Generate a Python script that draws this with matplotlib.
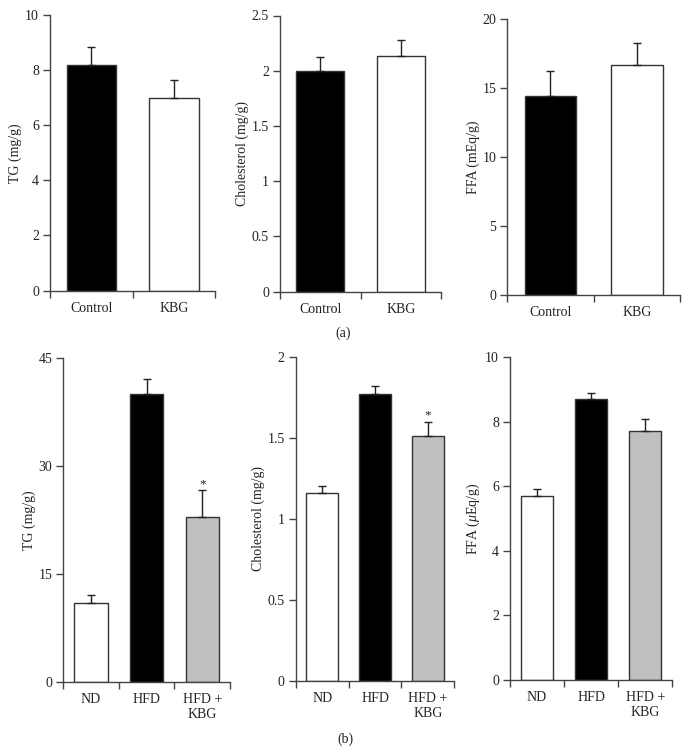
import matplotlib
matplotlib.use("Agg")
import matplotlib.pyplot as plt

plt.rcParams['font.family'] = ['Liberation Serif', 'DejaVu Serif']
plt.rcParams['mathtext.fontset'] = 'custom'
plt.rcParams['mathtext.it'] = 'Liberation Serif:italic'
plt.rcParams['mathtext.rm'] = 'Liberation Serif'

# ---- data ----
cats_a = ["Control", "KBG"]
cats_b = ["ND", "HFD", "HFD +\nKBG"]

tg_a = [8.2, 7.0]
tg_a_err = [0.65, 0.65]
chol_a = [2.0, 2.13]
chol_a_err = [0.12, 0.145]
ffa_a = [14.45, 16.66]
ffa_a_err = [1.77, 1.64]

tg_b = [10.9, 39.9, 22.9]
tg_b_err = [1.2, 2.2, 3.7]
chol_b = [1.16, 1.77, 1.51]
chol_b_err = [0.04, 0.05, 0.09]
ffa_b = [5.69, 8.7, 7.7]
ffa_b_err = [0.21, 0.2, 0.39]

sig_b = ["", "", "*"]

colors_a = ["black", "white"]
colors_b = ["white", "black", "#c0c0c0"]

W, H = 689, 753
fig = plt.figure(figsize=(W / 100, H / 100), dpi=100)

def px_axes(x0, x1, ytop, ybot):
    return fig.add_axes([x0 / W, 1 - ybot / H, (x1 - x0) / W, (ybot - ytop) / H])

spine_c = "#444444"

def panel(ax, cats, vals, errs, colors, ymax, yticks, ytlabels, ylabel, sig=None, labelpad=2):
    n = len(cats)
    xs = list(range(n))
    ax.bar(xs, vals, width=0.6, color=colors, edgecolor="#333333", linewidth=1.0, zorder=2)
    ax.errorbar(xs, vals, yerr=[[0] * n, errs], fmt="none", ecolor="#222222",
                elinewidth=1.0, capsize=3, capthick=1.0, zorder=3)
    if sig:
        for x, v, e, s in zip(xs, vals, errs, sig):
            if s:
                ax.text(x, v + e, s, ha="center", va="bottom", fontsize=9.5, color="#222222")
    ax.set_xlim(-0.5, n - 0.5)
    ax.set_ylim(0, ymax)
    ax.set_yticks(yticks)
    ax.set_yticklabels(ytlabels)
    ax.set_xticks(xs)
    ax.set_xticklabels(cats)
    ax.tick_params(axis="x", length=0, pad=8, labelsize=10, labelcolor="#222222")
    ax.set_xticks([i - 0.5 for i in range(n + 1)], minor=True)
    ax.tick_params(axis="x", which="minor", length=5, width=1.0, color=spine_c, direction="out")
    ax.tick_params(axis="y", length=5, width=1.0, color=spine_c, labelsize=10,
                   labelcolor="#222222", pad=3)
    for s in ["top", "right"]:
        ax.spines[s].set_visible(False)
    for s in ["left", "bottom"]:
        ax.spines[s].set_color(spine_c)
        ax.spines[s].set_linewidth(1.0)
    ax.set_ylabel(ylabel, fontsize=10, color="#222222", labelpad=labelpad)

ax1 = px_axes(50, 215, 15, 290.5)
panel(ax1, cats_a, tg_a, tg_a_err, colors_a, 10, [0, 2, 4, 6, 8, 10],
      ["0", "2", "4", "6", "8", "10"], "TG (mg/g)")
ax2 = px_axes(280, 441, 15.5, 291.7)
panel(ax2, cats_a, chol_a, chol_a_err, colors_a, 2.5, [0, 0.5, 1, 1.5, 2, 2.5],
      ["0", "0.5", "1", "1.5", "2", "2.5"], "Cholesterol (mg/g)")
ax3 = px_axes(507.3, 680, 19.3, 294.7)
panel(ax3, cats_a, ffa_a, ffa_a_err, colors_a, 20, [0, 5, 10, 15, 20],
      ["0", "5", "10", "15", "20"], "FFA (mEq/g)")

ax4 = px_axes(63.3, 230, 357.7, 681.7)
panel(ax4, cats_b, tg_b, tg_b_err, colors_b, 45, [0, 15, 30, 45],
      ["0", "15", "30", "45"], "TG (mg/g)", sig=sig_b)
ax5 = px_axes(295.7, 454.3, 356.7, 680.7)
panel(ax5, cats_b, chol_b, chol_b_err, colors_b, 2, [0, 0.5, 1, 1.5, 2],
      ["0", "0.5", "1", "1.5", "2"], "Cholesterol (mg/g)", sig=sig_b)
ax6 = px_axes(510, 672.3, 357, 680)
panel(ax6, cats_b, ffa_b, ffa_b_err, colors_b, 10, [0, 2, 4, 6, 8, 10],
      ["0", "2", "4", "6", "8", "10"], r"FFA ($\mu$Eq/g)")

fig.text(343 / W, 1 - 333 / H, "(a)", ha="center", va="center", fontsize=10, color="#222222")
fig.text(345 / W, 1 - 739 / H, "(b)", ha="center", va="center", fontsize=10, color="#222222")

fig.savefig("out.png", dpi=100)
